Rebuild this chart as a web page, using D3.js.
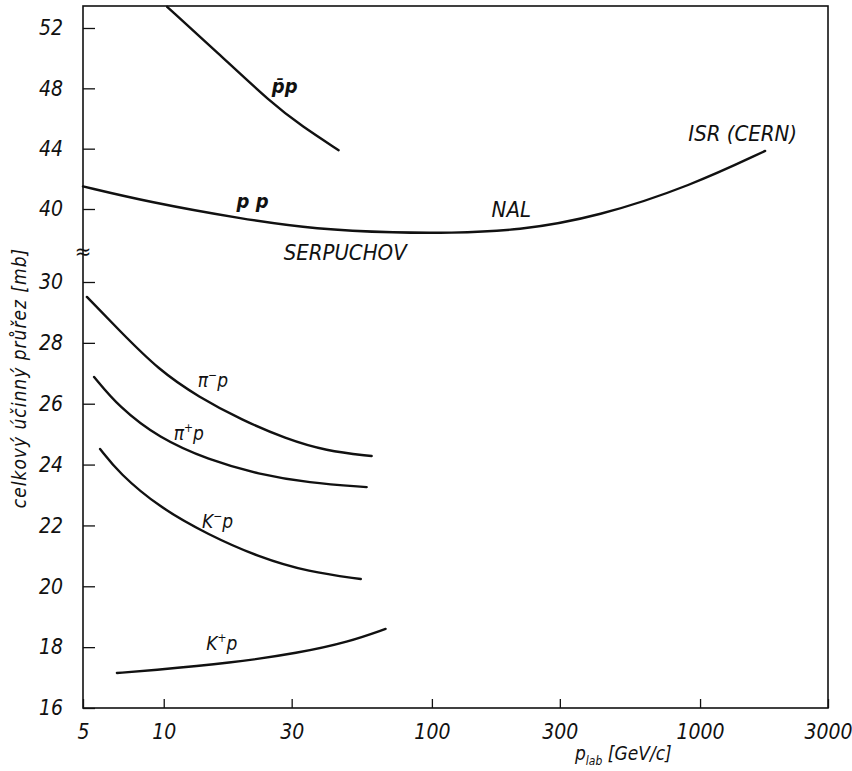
<!DOCTYPE html>
<html>
<head>
<meta charset="utf-8">
<script src="https://cdn.jsdelivr.net/npm/d3@7/dist/d3.min.js"></script>
<style>
  html, body { margin: 0; padding: 0; background: #fff; }
  svg { display: block; }
  text { font-family: "DejaVu Sans Condensed", "DejaVu Sans", sans-serif; font-style: italic; font-stretch: condensed; fill: #111; }
</style>
</head>
<body>
<svg id="chart" width="852" height="771"></svg>
<script>
// momentum ticks (log axis) and the two pieces of the broken cross-section axis
const xTicks = [5, 10, 30, 100, 300, 1000, 3000];
const yLowTicks = [16, 18, 20, 22, 24, 26, 28, 30];
const yHighTicks = [40, 44, 48, 52];

// [p_lab GeV/c, sigma_tot mb]
const pbarP = [[10.3, 53.4], [15.8, 50.4], [25.3, 47.0], [32.7, 45.5], [44.9, 43.9]];
const ppData = [[5.0, 41.5], [8.8, 40.46], [19.6, 39.34], [36.9, 38.65], [75, 38.42], [115, 38.41],
  [210, 38.56], [418, 39.5], [927, 41.55], [1749, 43.85]];
const piMinusP = [[5.17, 29.51], [6.81, 28.42], [9.6, 27.1], [13.5, 26.22], [19.6, 25.46],
  [28.5, 24.85], [40.2, 24.45], [59.6, 24.28]];
const piPlusP = [[5.5, 26.88], [6.81, 25.89], [9.6, 24.87], [14.7, 24.15], [22.6, 23.68],
  [34.7, 23.4], [57.1, 23.26]];
const kMinusP = [[5.79, 24.51], [6.81, 23.72], [9.6, 22.6], [14.7, 21.69], [22.6, 20.96],
  [34.7, 20.47], [54.3, 20.24]];
const kPlusP = [[6.69, 17.15], [8.8, 17.23], [17.9, 17.48], [31.9, 17.81], [48.9, 18.17], [67.2, 18.6]];

// which y segment each curve lives on
const curves = [
  { data: pbarP, part: 'high' },
  { data: ppData, part: 'high' },
  { data: piMinusP, part: 'low' },
  { data: piPlusP, part: 'low' },
  { data: kMinusP, part: 'low' },
  { data: kPlusP, part: 'low' },
];

// text labels anchored in data coordinates: [main, sup, tail]
const labels = [
  { x: 25.3, y: 47.7, part: 'high', parts: ['p\u0304p', '', ''], weight: 'bold', size: 20 },
  { x: 18.7, y: 40.07, part: 'high', parts: ['p p', '', ''], weight: 'bold', size: 20 },
  { x: 28.0, y: 36.62, part: 'high', parts: ['SERPUCHOV', '', ''], size: 22 },
  { x: 167, y: 39.47, part: 'high', parts: ['NAL', '', ''], size: 22 },
  { x: 904, y: 44.5, part: 'high', parts: ['ISR (CERN)', '', ''], size: 22 },
  { x: 13.4, y: 26.55, part: 'low', parts: ['\u03c0', '\u2212', 'p'], size: 19 },
  { x: 10.9, y: 24.81, part: 'low', parts: ['\u03c0', '+', 'p'], size: 19 },
  { x: 13.9, y: 21.92, part: 'low', parts: ['K', '\u2212', 'p'], size: 19 },
  { x: 14.4, y: 17.91, part: 'low', parts: ['K', '+', 'p'], size: 19 },
];

const svg = d3.select('#chart');
const m = { left: 83, right: 828, top: 6, bottom: 708 };

const x = d3.scaleLog().domain([5, 3000]).range([m.left, m.right]);
const yLow = d3.scaleLinear().domain([16, 30]).range([m.bottom, 282]);
const yHigh = d3.scaleLinear().domain([40, 52]).range([209, 28]);
const yOf = (part) => (part === 'high' ? yHigh : yLow);

// frame
svg.append('rect')
  .attr('x', m.left).attr('y', m.top)
  .attr('width', m.right - m.left).attr('height', m.bottom - m.top)
  .attr('fill', 'none').attr('stroke', '#111').attr('stroke-width', 1.6);

// x axis: short ticks pointing up into the plot
const xAxis = svg.append('g')
  .attr('transform', `translate(0,${m.bottom})`)
  .call(d3.axisBottom(x).tickValues(xTicks).tickSize(-9).tickPadding(16).tickFormat(d3.format('d')));
xAxis.select('.domain').remove();
xAxis.selectAll('line').attr('stroke', '#111').attr('stroke-width', 1.3);
xAxis.selectAll('text').attr('font-size', 21).attr('fill', '#111').attr('font-family', null);

// y axis, both segments
[[yLow, yLowTicks], [yHigh, yHighTicks]].forEach(([scale, ticks]) => {
  const g = svg.append('g')
    .attr('transform', `translate(${m.left},0)`)
    .call(d3.axisLeft(scale).tickValues(ticks).tickSize(-12).tickPadding(20));
  g.select('.domain').remove();
  g.selectAll('line').attr('stroke', '#111').attr('stroke-width', 1.3);
  g.selectAll('text').attr('font-size', 21).attr('fill', '#111').attr('font-family', null);
});

// axis break mark
svg.append('text')
  .attr('x', m.left).attr('y', 259)
  .attr('text-anchor', 'middle')
  .attr('font-size', 22)
  .style('font-style', 'normal')
  .text('\u2248');

// curves
const line = d3.line().curve(d3.curveBasis);
curves.forEach((c) => {
  const ys = yOf(c.part);
  svg.append('path')
    .attr('d', line(c.data.map((d) => [x(d[0]), ys(d[1])])))
    .attr('fill', 'none')
    .attr('stroke', '#111')
    .attr('stroke-width', 2.4)
    .attr('stroke-linecap', 'round');
});

// curve labels
labels.forEach((l) => {
  const t = svg.append('text')
    .attr('x', x(l.x))
    .attr('y', yOf(l.part)(l.y))
    .attr('font-size', l.size)
    .attr('font-weight', l.weight || 'normal');
  t.append('tspan').text(l.parts[0]);
  if (l.parts[1]) {
    t.append('tspan').attr('dy', -8).attr('font-size', 12).text(l.parts[1]);
    t.append('tspan').attr('dy', 8).text(l.parts[2]);
  }
});

// axis titles
const xt = svg.append('text').attr('x', 575).attr('y', 760).attr('font-size', 19);
xt.append('tspan').text('p');
xt.append('tspan').attr('dy', 5).attr('font-size', 12).text('lab');
xt.append('tspan').attr('dy', -5).text(' [GeV/c]');

svg.append('text')
  .attr('transform', 'translate(26,378) rotate(-90)')
  .attr('text-anchor', 'middle')
  .attr('font-size', 19)
  .attr('letter-spacing', 1)
  .text('celkový účinný průřez [mb]');
</script>
</body>
</html>
